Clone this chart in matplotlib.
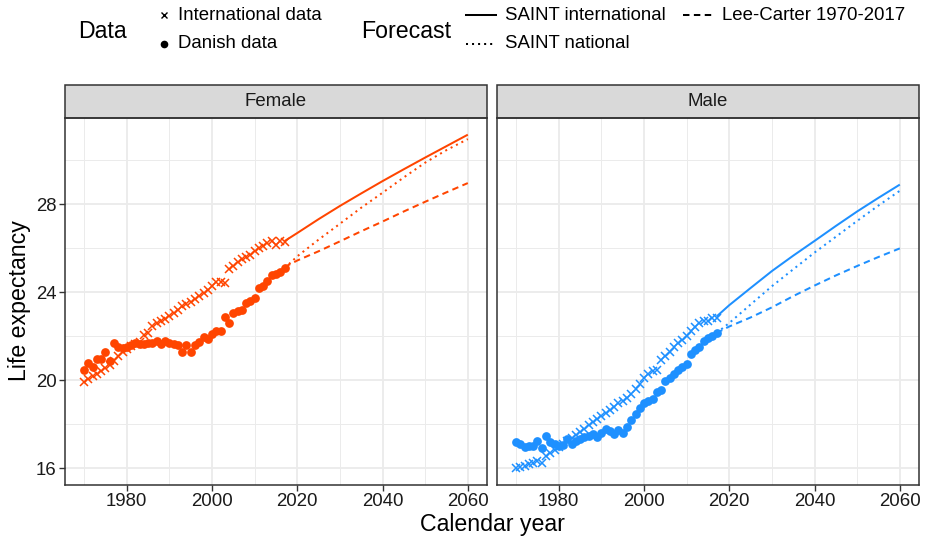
import matplotlib
matplotlib.use("Agg")
import matplotlib.pyplot as plt
from matplotlib.lines import Line2D
from matplotlib.patches import Rectangle
from matplotlib.ticker import MultipleLocator

plt.rcParams["font.family"] = ["Liberation Sans", "DejaVu Sans"]

# ---- data ----
years = list(range(1970, 2018))

female_intl = [19.94, 20.06, 20.18, 20.30, 20.42, 20.55, 20.70, 20.88, 21.10, 21.27,
               21.44, 21.54, 21.64, 21.75, 22.07, 22.15, 22.48, 22.62, 22.70, 22.80,
               22.92, 23.08, 23.20, 23.38, 23.48, 23.58, 23.70, 23.85, 23.98, 24.12,
               24.30, 24.46, 24.46, 24.42, 25.07, 25.20, 25.37, 25.50, 25.62, 25.72,
               25.90, 26.00, 26.10, 26.25, 26.35, 26.15, 26.32, 26.30]
female_dk = [20.47, 20.80, 20.62, 20.96, 20.96, 21.28, 20.90, 21.69, 21.53, 21.46,
             21.50, 21.60, 21.69, 21.66, 21.66, 21.69, 21.69, 21.81, 21.66, 21.77,
             21.72, 21.66, 21.61, 21.31, 21.61, 21.31, 21.60, 21.76, 21.99, 21.90,
             22.12, 22.25, 22.26, 22.88, 22.62, 23.08, 23.15, 23.20, 23.50, 23.60,
             23.74, 24.22, 24.30, 24.50, 24.78, 24.84, 24.91, 25.10]
male_intl = [16.00, 16.07, 16.12, 16.18, 16.26, 16.33, 16.25, 16.55, 16.68, 16.82,
             16.95, 17.10, 17.22, 17.38, 17.50, 17.64, 17.80, 17.95, 18.10, 18.22,
             18.37, 18.52, 18.66, 18.79, 18.95, 19.05, 19.18, 19.38, 19.62, 19.85,
             20.10, 20.28, 20.42, 20.46, 20.94, 21.10, 21.30, 21.50, 21.70, 21.85,
             22.00, 22.26, 22.42, 22.60, 22.72, 22.70, 22.85, 22.85]
male_dk = [17.19, 17.12, 16.97, 17.03, 17.00, 17.26, 16.93, 17.49, 17.19, 17.11,
           17.01, 17.05, 17.34, 17.11, 17.26, 17.35, 17.42, 17.49, 17.54, 17.42,
           17.60, 17.80, 17.68, 17.55, 17.72, 17.62, 17.88, 18.20, 18.45, 18.75,
           18.95, 19.08, 19.16, 19.45, 19.55, 19.97, 20.12, 20.30, 20.45, 20.62,
           20.75, 21.22, 21.37, 21.52, 21.80, 21.93, 22.03, 22.15]

fc_years = [2017, 2020, 2025, 2030, 2035, 2040, 2045, 2050, 2055, 2060]
female_saint_intl = [26.33, 26.70, 27.33, 27.93, 28.50, 29.06, 29.60, 30.13, 30.65, 31.17]
female_saint_nat = [25.10, 25.64, 26.40, 27.12, 27.85, 28.53, 29.23, 29.90, 30.47, 30.97]
female_lc = [25.15, 25.45, 25.87, 26.32, 26.78, 27.22, 27.68, 28.12, 28.55, 28.97]
male_saint_intl = [22.90, 23.42, 24.20, 24.97, 25.67, 26.34, 27.02, 27.68, 28.30, 28.90]
male_saint_nat = [22.15, 22.61, 23.45, 24.28, 25.05, 25.81, 26.53, 27.25, 27.95, 28.62]
male_lc = [22.15, 22.45, 22.86, 23.32, 23.83, 24.31, 24.77, 25.20, 25.61, 26.00]

panels = [
    ("Female", "#FF4500", female_intl, female_dk, female_saint_intl, female_saint_nat, female_lc),
    ("Male", "#1E90FF", male_intl, male_dk, male_saint_intl, male_saint_nat, male_lc),
]

W, H = 926, 539
fig = plt.figure(figsize=(W / 100, H / 100), dpi=100)


def px_axes(x0, y0, x1, y1):
    return fig.add_axes([x0 / W, 1 - y1 / H, (x1 - x0) / W, (y1 - y0) / H])


# shared limits with ggplot-style 5% expansion
all_vals = female_intl + female_dk + male_intl + male_dk + female_saint_intl + male_saint_intl
ymin, ymax = min(all_vals), max(all_vals)
ypad = 0.05 * (ymax - ymin)
xmin, xmax = 1970, 2060
xpad = 0.05 * (xmax - xmin)

LW = 1.45
DASHED = (0, (3.2, 2.2))
DOTTED = (0, (1.0, 2.0))
PANEL_TOP, PANEL_BOT = 118, 485
STRIP_H = 33

for i, (name, col, intl, dk, s_int, s_nat, lc) in enumerate(panels):
    x0 = 65 if i == 0 else 497
    ax = px_axes(x0, PANEL_TOP, x0 + 422, PANEL_BOT)
    ax.set_facecolor("white")
    ax.plot(fc_years, s_int, color=col, lw=LW, solid_capstyle="butt")
    ax.plot(fc_years, s_nat, color=col, lw=LW, linestyle=DOTTED)
    ax.plot(fc_years, lc, color=col, lw=LW, linestyle=DASHED)
    ax.plot(years, intl, linestyle="none", marker="x", color=col, markersize=5.5, markeredgewidth=1.1)
    ax.plot(years, dk, linestyle="none", marker="o", color=col, markersize=6.3, markeredgewidth=0)

    ax.set_xlim(xmin - xpad, xmax + xpad)
    ax.set_ylim(ymin - ypad, ymax + ypad)
    ax.xaxis.set_major_locator(MultipleLocator(20))
    ax.xaxis.set_minor_locator(MultipleLocator(10))
    ax.yaxis.set_major_locator(MultipleLocator(4))
    ax.yaxis.set_minor_locator(MultipleLocator(2))
    ax.set_xticks([1980, 2000, 2020, 2040, 2060])
    ax.set_yticks([16, 20, 24, 28])
    ax.grid(which="major", color="#EBEBEB", lw=1.3)
    ax.grid(which="minor", color="#EBEBEB", lw=0.7)
    ax.set_axisbelow(True)
    ax.tick_params(which="major", length=4, width=1.0, color="#333333", labelsize=13.4,
                   labelcolor="#1A1A1A", pad=2)
    ax.tick_params(which="minor", length=0)
    if i == 1:
        ax.tick_params(axis="y", which="both", left=False, labelleft=False)
    for s in ax.spines.values():
        s.set_color("#333333")
        s.set_linewidth(1.1)

    # facet strip
    sh = STRIP_H / (PANEL_BOT - PANEL_TOP)
    ax.add_patch(Rectangle((0, 1), 1, sh, transform=ax.transAxes, facecolor="#D9D9D9",
                           edgecolor="#333333", lw=1.1, clip_on=False))
    ax.text(0.5, 1 + sh / 2, name, transform=ax.transAxes, ha="center", va="center",
            fontsize=13.4, color="#1A1A1A")

fig.text(492 / W, 1 - 524 / H, "Calendar year", ha="center", va="center", fontsize=16.7)
fig.text(20 / W, 1 - 301 / H, "Life expectancy", ha="center", va="center", rotation=90, fontsize=16.7)

# ---- legend (drawn in pixel coordinates) ----
leg = fig.add_axes([0, 0, 1, 1])
leg.set_xlim(0, W)
leg.set_ylim(H, 0)
leg.axis("off")
leg.patch.set_alpha(0)

leg.text(78, 31, "Data", fontsize=16.7, va="center", ha="left")
leg.plot([164], [15], marker="x", color="black", markersize=5, markeredgewidth=1.0)
leg.plot([164], [44], marker="o", color="black", markersize=5.5, markeredgewidth=0)
leg.text(178, 15, "International data", fontsize=13.4, va="center", ha="left")
leg.text(178, 44, "Danish data", fontsize=13.4, va="center", ha="left")

leg.text(361, 31, "Forecast", fontsize=16.7, va="center", ha="left")
leg.add_line(Line2D([466, 496], [15, 15], color="black", lw=LW))
leg.add_line(Line2D([466, 496], [44, 44], color="black", lw=LW, linestyle=DOTTED))
leg.add_line(Line2D([683, 713], [15, 15], color="black", lw=LW, linestyle=DASHED))
leg.text(505, 15, "SAINT international", fontsize=13.4, va="center", ha="left")
leg.text(505, 44, "SAINT national", fontsize=13.4, va="center", ha="left")
leg.text(722, 15, "Lee-Carter 1970-2017", fontsize=13.4, va="center", ha="left")

fig.savefig("out.png", dpi=100)
